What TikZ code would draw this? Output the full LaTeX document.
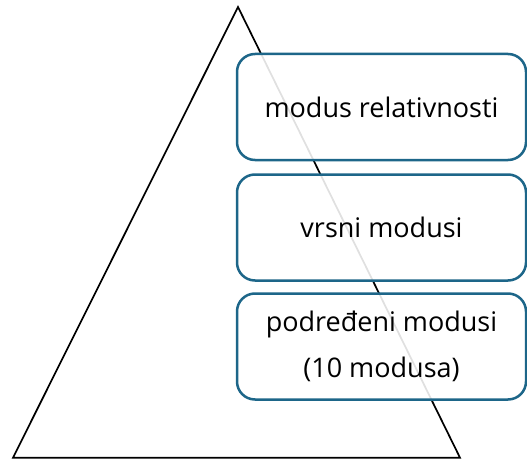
\documentclass[tikz,border=0pt]{standalone}
\usepackage{fontspec}
\setmainfont{Open Sans}
\definecolor{boxblue}{HTML}{1D6689}
\begin{document}
\begin{tikzpicture}[x=1pt,y=1pt,
    modbox/.style={draw=boxblue, line width=2.5pt, rounded corners=18pt, fill=white, fill opacity=0.88, text opacity=1,
      minimum width=289pt, minimum height=106pt, align=center, font=\fontsize{27}{32}\selectfont}]
        \useasboundingbox (0,0) rectangle (527,459);
        % pyramid
        \draw[line width=1.7pt] (13,1.3) -- (238,452) -- (460,1.3) -- cycle;
        \node[modbox] (rel) at (381.5,352) {modus relativnosti};
        \node[modbox] (vrsni) at (381.5,231.5) {vrsni modusi};
        \node[modbox] (podr) at (381.5,112.5) {podređeni modusi\\[14pt](10 modusa)};
    \end{tikzpicture}
\end{document}
